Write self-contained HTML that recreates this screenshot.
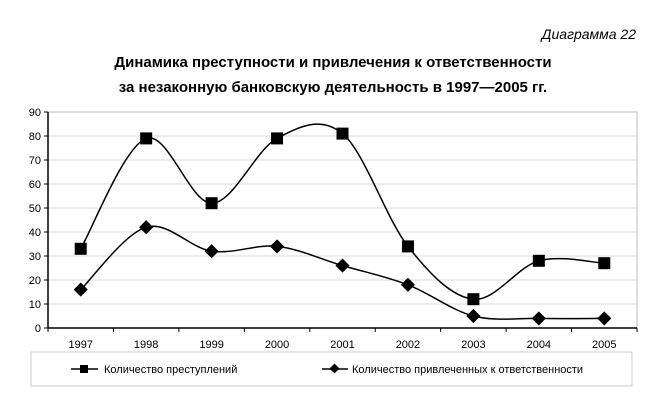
<!DOCTYPE html>
<html><head><meta charset="utf-8"><style>
body{margin:0;background:#fff;width:666px;height:413px;overflow:hidden;font-family:"Liberation Sans",sans-serif}
</style></head><body>
<svg width="666" height="413" font-family="Liberation Sans, sans-serif">
<text x="636" y="39" text-anchor="end" font-size="14" font-style="italic">Диаграмма 22</text>
<text x="333" y="67" text-anchor="middle" font-size="15" font-weight="bold">Динамика преступности и привлечения к ответственности</text>
<text x="333" y="92" text-anchor="middle" font-size="15" font-weight="bold">за незаконную банковскую деятельность в 1997—2005 гг.</text>
<g id="grid"></g><g id="axes"></g><g id="series"></g>
<rect x="31" y="352" width="601" height="34" fill="none" stroke="#ccc"/>
<g>
<line x1="71" y1="369" x2="98" y2="369" stroke="#000" stroke-width="1.5"/><rect x="80" y="365" width="8" height="8"/>
<text x="104" y="373" font-size="11">Количество преступлений</text></g>
<g>
<line x1="322" y1="369" x2="348" y2="369" stroke="#000" stroke-width="1.5"/><rect x="331" y="365" width="7" height="7" transform="rotate(45 334.5 368.5)"/>
<text x="352" y="373" font-size="11">Количество привлеченных к ответственности</text></g>
</svg>
<script>
const categories=["1997","1998","1999","2000","2001","2002","2003","2004","2005"];
const crimes=[33,79,52,79,81,34,12,28,27];
const prosecuted=[16,42,32,34,26,18,5,4,4];
const yTicks=[0,10,20,30,40,50,60,70,80,90];
const NS="http://www.w3.org/2000/svg";
const X0=48,X1=637,Y0=328,Y1=112,YMAX=90;
const step=(X1-X0)/categories.length;
const xs=i=>X0+step*(i+0.5);
const ys=v=>Y0-(v/YMAX)*(Y0-Y1);
function mk(t,a,p){const e=document.createElementNS(NS,t);for(const k in a)e.setAttribute(k,a[k]);p.appendChild(e);return e;}
const grid=document.getElementById('grid'),axes=document.getElementById('axes'),ser=document.getElementById('series');
yTicks.forEach(v=>{
 if(v>0){const g=mk('line',{x1:X0,x2:X1,y1:ys(v),y2:ys(v),stroke:'#d8d8d8'},grid);
 
 }
 const t=mk('text',{x:X0-7,y:ys(v)+4,'text-anchor':'end','font-size':11},axes);t.textContent=v;
 
 
 mk('line',{x1:X0-4,x2:X0,y1:ys(v),y2:ys(v),stroke:'#000'},axes);
});
mk('rect',{x:X0,y:Y1,width:X1-X0,height:Y0-Y1,fill:'none',stroke:'#bbb'},grid);
mk('line',{x1:X0,x2:X0,y1:Y1,y2:Y0,stroke:'#000','stroke-width':1.5},axes);
mk('line',{x1:X0,x2:X1,y1:Y0,y2:Y0,stroke:'#000','stroke-width':1.5},axes);
categories.forEach((c,i)=>{
 mk('line',{x1:X0+step*i,x2:X0+step*i,y1:Y0,y2:Y0+4,stroke:'#000'},axes);
 const t=mk('text',{x:xs(i),y:Y0+20,'text-anchor':'middle','font-size':11},axes);t.textContent=c;
 
 
});
mk('line',{x1:X1,x2:X1,y1:Y0,y2:Y0+4,stroke:'#000'},axes);
function smooth(vals){const p=vals.map((v,i)=>[xs(i),ys(v)]);let d=`M${p[0][0]},${p[0][1]}`;
 for(let i=0;i<p.length-1;i++){const a=p[i-1]||p[i],b=p[i],c=p[i+1],e=p[i+2]||c;
 d+=` C${b[0]+(c[0]-a[0])/6},${b[1]+(c[1]-a[1])/6} ${c[0]-(e[0]-b[0])/6},${c[1]-(e[1]-b[1])/6} ${c[0]},${c[1]}`;}return d;}
[[crimes,'crimes','sq'],[prosecuted,'prosecuted','di']].forEach(([vals,name,m])=>{
 const l=mk('path',{d:smooth(vals),fill:'none',stroke:'#000','stroke-width':1.5},ser);
 
 
 vals.forEach((v,i)=>{const x=xs(i),y=ys(v);let e;
  if(m==='sq')e=mk('rect',{x:x-6,y:y-6,width:12,height:12},ser);
  else e=mk('rect',{x:x-5,y:y-5,width:10,height:10,transform:`rotate(45 ${x} ${y})`},ser);
  
  });
});
</script>
</body></html>
